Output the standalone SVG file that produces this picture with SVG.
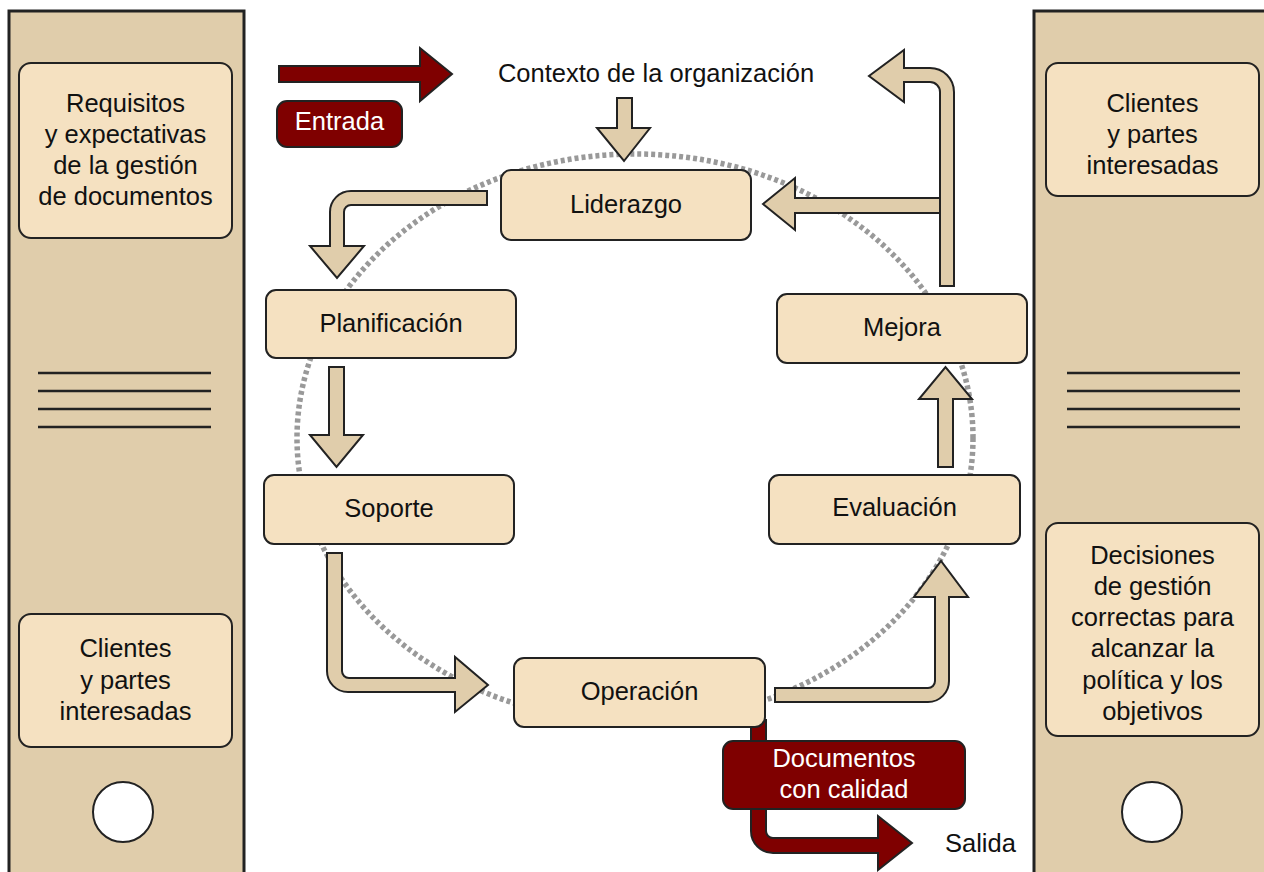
<svg xmlns="http://www.w3.org/2000/svg" width="1264" height="872" viewBox="0 0 1264 872">
<style>
  .panel { fill: #E0CDAB; stroke: #222; stroke-width: 3; }
  .box { fill: #F5E1C1; stroke: #222; stroke-width: 2; }
  .red { fill: #7F0000; stroke: #222; stroke-width: 2; }
  .arrow { fill: #E0CDAB; stroke: #222; stroke-width: 2; stroke-linejoin: miter; }
  .redarrow { fill: #7F0000; stroke: #222; stroke-width: 2; }
  .rule { stroke: #222; stroke-width: 2.5; }
  .hole { fill: #fff; stroke: #222; stroke-width: 2; }
  text { font-family: "Liberation Sans", Arial, sans-serif; font-size: 25.5px; fill: #111; text-anchor: middle; }
  .w { fill: #fff; }
  .ring { fill: none; stroke: #999; stroke-width: 5.5; stroke-dasharray: 4 3; }
</style>
<rect width="1264" height="872" fill="#fff"/>

<g id="binder-left">
  <rect class="panel" x="9" y="11" width="235" height="880"/>
  <line class="rule" x1="38" y1="373" x2="211" y2="373"/>
  <line class="rule" x1="38" y1="391" x2="211" y2="391"/>
  <line class="rule" x1="38" y1="409" x2="211" y2="409"/>
  <line class="rule" x1="38" y1="427" x2="211" y2="427"/>
  <circle class="hole" cx="123" cy="812" r="30"/>
</g>
<g id="binder-right">
  <rect class="panel" x="1034" y="11" width="250" height="880"/>
  <line class="rule" x1="1067" y1="373" x2="1240" y2="373"/>
  <line class="rule" x1="1067" y1="391" x2="1240" y2="391"/>
  <line class="rule" x1="1067" y1="409" x2="1240" y2="409"/>
  <line class="rule" x1="1067" y1="427" x2="1240" y2="427"/>
  <circle class="hole" cx="1152" cy="812" r="30"/>
</g>

<g id="requisitos">
  <rect class="box" x="19" y="63" width="213" height="175" rx="12"/>
  <text x="125.5" y="112">Requisitos</text>
  <text x="125.5" y="143">y expectativas</text>
  <text x="125.5" y="174">de la gestión</text>
  <text x="125.5" y="205">de documentos</text>
</g>
<g id="clientes-left">
  <rect class="box" x="19" y="614" width="213" height="133" rx="12"/>
  <text x="125.5" y="657">Clientes</text>
  <text x="125.5" y="689">y partes</text>
  <text x="125.5" y="720">interesadas</text>
</g>
<g id="clientes-right">
  <rect class="box" x="1046" y="63" width="213" height="133" rx="12"/>
  <text x="1152.5" y="112">Clientes</text>
  <text x="1152.5" y="143">y partes</text>
  <text x="1152.5" y="174">interesadas</text>
</g>
<g id="decisiones">
  <rect class="box" x="1046" y="523" width="213" height="213" rx="12"/>
  <text x="1152.5" y="564">Decisiones</text>
  <text x="1152.5" y="595">de gestión</text>
  <text x="1152.5" y="626">correctas para</text>
  <text x="1152.5" y="657">alcanzar la</text>
  <text x="1152.5" y="689">política y los</text>
  <text x="1152.5" y="720">objetivos</text>
</g>

<ellipse class="ring" cx="635" cy="438" rx="338" ry="284"/>

<g id="connectors">
  <polygon class="redarrow" points="279,66 420,66 420,48 452,74 420,101 420,82 279,82"/>
  <polygon class="arrow" points="617,98 632,98 632,128 650,128 624,161 597,128 617,128"/>
  <path class="arrow" d="M487,191 H351 A21,21 0 0 0 330,212 V246 H310 L337,278 L364,246 H344 V212 A7,7 0 0 1 351,205 H487 Z"/>
  <polygon class="arrow" points="329,367 344,367 344,435 363,435 336.5,467 310,435 329,435"/>
  <path class="arrow" d="M327,553 H342 V671 A7,7 0 0 0 349,678 H455 V657 L488,685 L455,712 V692 H348 A21,21 0 0 1 327,671 Z"/>
  <path class="arrow" d="M775,688 H928 A7,7 0 0 0 935,681 V597 H914 L941,561 L968,597 H949 V681 A21,21 0 0 1 928,702 H775 Z"/>
  <polygon class="arrow" points="938,467 938,399 919,399 945.5,367 972,399 953,399 953,467"/>
  <polygon class="arrow" points="942,198 795,198 795,178 763,204 795,230 795,213 942,213"/>
  <path class="arrow" d="M940,286 V92 A10,10 0 0 0 930,82 H904 V102 L869,76 L904,50 V68 H930 A24,24 0 0 1 954,92 V286 Z"/>
  <path class="redarrow" d="M751,720 H766 V831 A7,7 0 0 0 773,838 H878 V816 L912,843 L878,870 V853 H773 A22,22 0 0 1 751,831 Z"/>
</g>

<g id="contexto"><text x="656" y="82">Contexto de la organización</text></g>
<g id="entrada">
  <rect class="red" x="277" y="101" width="125" height="46" rx="10"/>
  <text class="w" x="339.5" y="130">Entrada</text>
</g>
<g id="liderazgo">
  <rect class="box" x="501" y="170" width="250" height="70" rx="10"/>
  <text x="626" y="213">Liderazgo</text>
</g>
<g id="planificacion">
  <rect class="box" x="266" y="290" width="250" height="68" rx="10"/>
  <text x="391" y="332">Planificación</text>
</g>
<g id="soporte">
  <rect class="box" x="264" y="475" width="250" height="69" rx="10"/>
  <text x="389" y="517">Soporte</text>
</g>
<g id="operacion">
  <rect class="box" x="514" y="658" width="251" height="69" rx="10"/>
  <text x="639.5" y="700">Operación</text>
</g>
<g id="evaluacion">
  <rect class="box" x="769" y="475" width="251" height="69" rx="10"/>
  <text x="894.5" y="516">Evaluación</text>
</g>
<g id="mejora">
  <rect class="box" x="777" y="294" width="250" height="69" rx="10"/>
  <text x="902" y="336">Mejora</text>
</g>
<g id="documentos">
  <rect class="red" x="723" y="741" width="242" height="68" rx="10"/>
  <text class="w" x="844" y="767">Documentos</text>
  <text class="w" x="844" y="798">con calidad</text>
</g>
<g id="salida"><text x="945" y="852" style="text-anchor:start">Salida</text></g>
</svg>
